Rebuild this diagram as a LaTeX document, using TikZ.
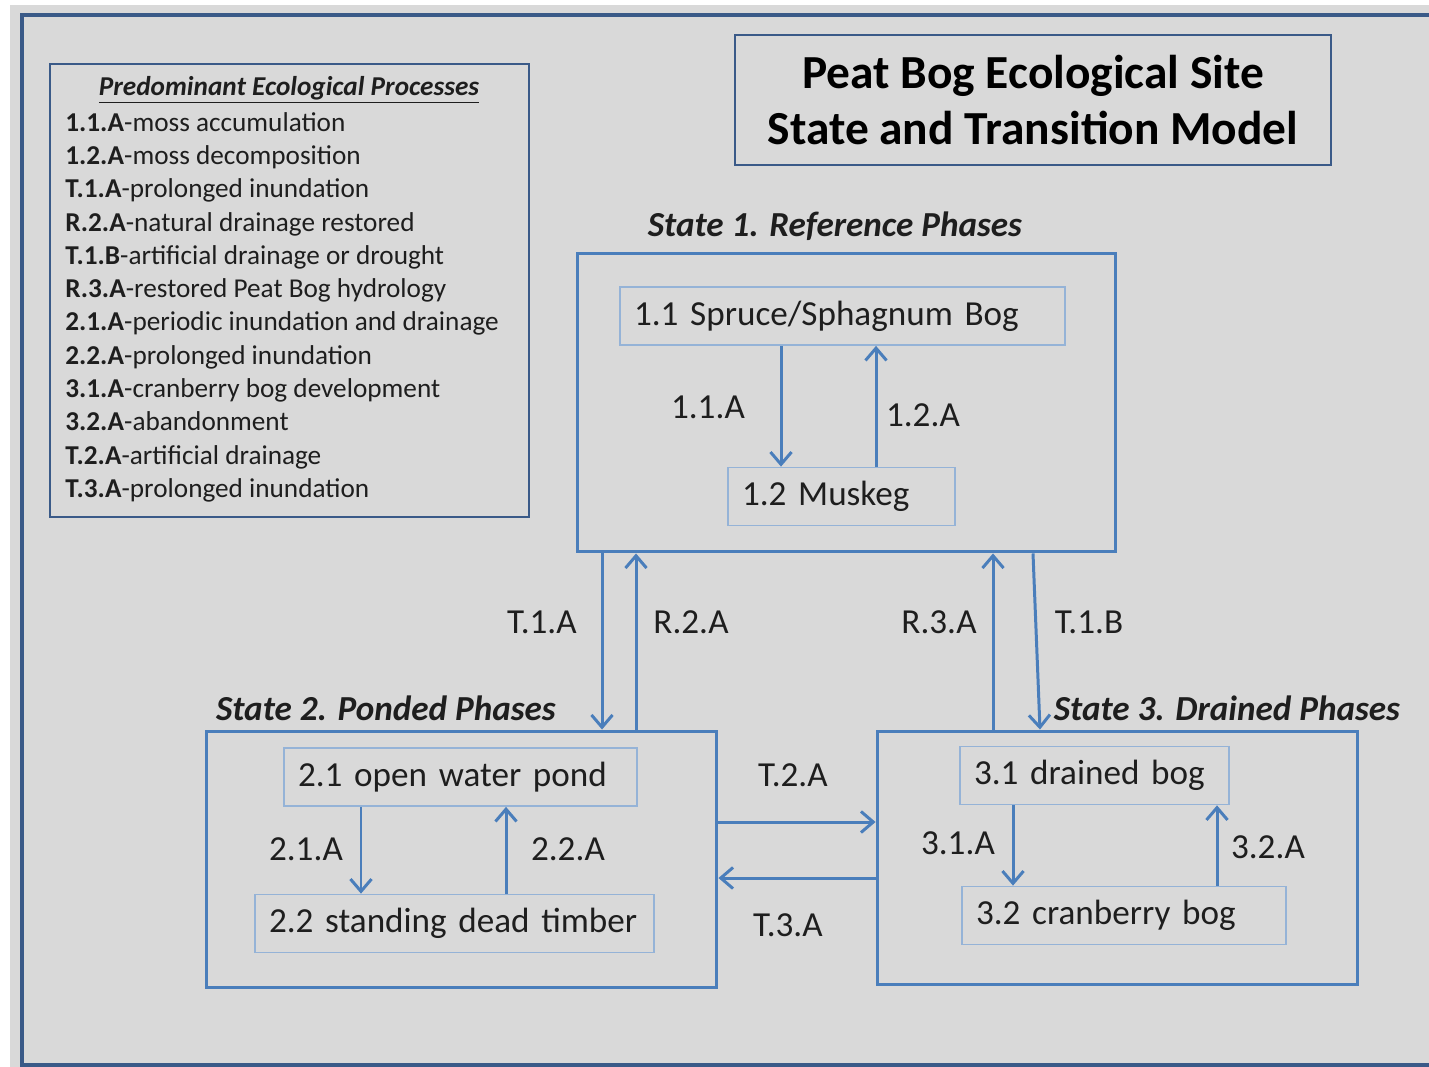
\documentclass[tikz,border=0pt]{standalone}
\usepackage{fontspec}
\setmainfont{Carlito}
\usetikzlibrary{arrows.meta}
\definecolor{bggray}{HTML}{D9D9D9}
\definecolor{frameblue}{HTML}{3A5A88}
\definecolor{stateblue}{HTML}{4A7EBB}
\definecolor{phaseblue}{HTML}{95B3D7}
\definecolor{inkgray}{HTML}{1E1E1E}

\begin{document}
\begin{tikzpicture}[x=0.02cm,y=-0.02cm,
  flow/.style={draw=stateblue,line width=1.7pt,-{Straight Barb[length=7pt,width=12pt]}}]

    % `statebox' is the frame round each state.
    % `phase' is used for the community phases inside a state.
    % `lbl' is the text beside a pathway, `head' the name of a state.
    \tikzstyle{statebox} = [draw=stateblue,line width=1.7pt,inner sep=0pt]
    \tikzstyle{phase} = [draw=phaseblue,line width=1pt,inner xsep=0.28cm,inner ysep=0pt,minimum height=1.16cm,align=left,text=inkgray,font=\fontsize{20}{24}\selectfont]
    \tikzstyle{lbl} = [text=inkgray,font=\fontsize{20}{24}\selectfont,inner sep=0pt]
    \tikzstyle{head} = [text=inkgray,font=\fontsize{20}{24}\selectfont\bfseries\itshape,inner sep=0pt]
    %
    \useasboundingbox[fill=white] (0,0) rectangle (1429,1067);
    \fill[bggray] (10,5) rectangle (1429,1067);
    \draw[frameblue,line width=2.2pt] (1429,15) -- (22,15) -- (22,1065) -- (1429,1065);

    % Title and list of processes.
    \node[draw=frameblue,line width=1.4pt,minimum width=11.92cm,minimum height=2.6cm,align=center,
      font=\fontsize{27}{32.3}\selectfont\bfseries] (title) at (1033,100)
      {Peat Bog Ecological Site\\State and Transition Model};
    \node[draw=frameblue,line width=1.6pt,minimum width=9.58cm,minimum height=9.06cm] (legend) at (289.5,290.5) {};
    \node[text=inkgray,inner sep=0pt,font=\fontsize{15.5}{19}\selectfont\bfseries\itshape] (legendhead) at (289,90)
      {\underline{Predominant Ecological Processes}};
    \node[anchor=north west,align=left,inner sep=0pt,text=inkgray,font=\fontsize{15.5}{18.94}\selectfont] (legendlist) at (65,112)
      {\textbf{1.1.A}-moss accumulation\\
       \textbf{1.2.A}-moss decomposition\\
       \textbf{T.1.A}-prolonged inundation\\
       \textbf{R.2.A}-natural drainage restored\\
       \textbf{T.1.B}-artificial drainage or drought\\
       \textbf{R.3.A}-restored Peat Bog hydrology\\
       \textbf{2.1.A}-periodic inundation and drainage\\
       \textbf{2.2.A}-prolonged inundation\\
       \textbf{3.1.A}-cranberry bog development\\
       \textbf{3.2.A}-abandonment\\
       \textbf{T.2.A}-artificial drainage\\
       \textbf{T.3.A}-prolonged inundation};

    % State 1.
    \node[head] (s1head) at (835,226) {State 1. Reference Phases};
    \node[statebox,minimum width=10.78cm,minimum height=5.98cm] (s1) at (846.5,402.5) {};
    \node[phase,text width=8.34cm] (p11) at (842.5,316) {1.1 Spruce/Sphagnum Bog};
    \node[phase,text width=3.98cm] (p12) at (841.5,496.5) {1.2 Muskeg};
    \coordinate (x11A) at (781,0);
    \coordinate (x12A) at (876,0);
    \draw[flow] (p11.south -| x11A) -- (p12.north -| x11A);
    \draw[flow] (p12.north -| x12A) -- (p11.south -| x12A);
    \node[lbl] (l11A) at (708,407) {1.1.A};
    \node[lbl] (l12A) at (923,415) {1.2.A};

    % State 2.
    \node[head] (s2head) at (386,708) {State 2. Ponded Phases};
    \node[statebox,minimum width=10.22cm,minimum height=5.14cm] (s2) at (461.5,859.5) {};
    \node[phase,text width=6.5cm] (p21) at (460.5,777) {2.1 open water pond};
    \node[phase,text width=7.42cm] (p22) at (454.5,923.5) {2.2 standing dead timber};
    \coordinate (x21A) at (361,0);
    \coordinate (x22A) at (506,0);
    \draw[flow] (p21.south -| x21A) -- (p22.north -| x21A);
    \draw[flow] (p22.north -| x22A) -- (p21.south -| x22A);
    \node[lbl] (l21A) at (306,849) {2.1.A};
    \node[lbl] (l22A) at (568,849) {2.2.A};

    % State 3.
    \node[head] (s3head) at (1227,708) {State 3. Drained Phases};
    \node[statebox,minimum width=9.62cm,minimum height=5.08cm] (s3) at (1117.5,858) {};
    \node[phase,text width=4.82cm] (p31) at (1094.5,775.5) {3.1 drained bog};
    \node[phase,text width=5.92cm] (p32) at (1124,915.5) {3.2 cranberry bog};
    \coordinate (x31A) at (1013,0);
    \coordinate (x32A) at (1217,0);
    \draw[flow] (p31.south -| x31A) -- (p32.north -| x31A);
    \draw[flow] (p32.north -| x32A) -- (p31.south -| x32A);
    \node[lbl] (l31A) at (958,843) {3.1.A};
    \node[lbl] (l32A) at (1268,847) {3.2.A};

    % Transitions and restorations between states.
    \coordinate (xT1A) at (602,0);
    \coordinate (xR2A) at (636,0);
    \coordinate (xR3A) at (993,0);
    \coordinate (xT1Bt) at (1033,0);
    \coordinate (xT1Bb) at (1040,0);
    \coordinate (yT2A) at (0,822);
    \coordinate (yT3A) at (0,878);
    \draw[flow] (s1.south -| xT1A) -- (s2.north -| xT1A);
    \draw[flow] (s2.north -| xR2A) -- (s1.south -| xR2A);
    \draw[flow] (s3.north -| xR3A) -- (s1.south -| xR3A);
    \draw[flow] (s1.south -| xT1Bt) -- (s3.north -| xT1Bb);
    \draw[flow] (s2.east |- yT2A) -- (s3.west |- yT2A);
    \draw[flow] (s3.west |- yT3A) -- (s2.east |- yT3A);
    \node[lbl] (lT1A) at (542,622) {T.1.A};
    \node[lbl] (lR2A) at (691,622) {R.2.A};
    \node[lbl] (lR3A) at (939,622) {R.3.A};
    \node[lbl] (lT1B) at (1089,622) {T.1.B};
    \node[lbl] (lT2A) at (793,775) {T.2.A};
    \node[lbl] (lT3A) at (788,925) {T.3.A};
\end{tikzpicture}
\end{document}
